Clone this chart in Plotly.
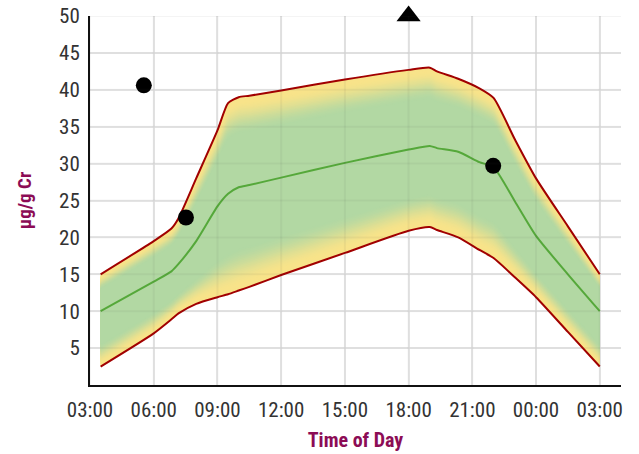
import plotly.graph_objects as go

# ---------------- data ----------------
times = ["2024-01-01 03:30", "2024-01-01 06:00", "2024-01-01 06:50", "2024-01-01 07:10",
         "2024-01-01 08:00", "2024-01-01 09:00", "2024-01-01 09:30", "2024-01-01 10:00",
         "2024-01-01 10:30", "2024-01-01 12:00", "2024-01-01 15:00", "2024-01-01 18:00",
         "2024-01-01 19:00", "2024-01-01 19:20", "2024-01-01 20:20", "2024-01-01 21:20",
         "2024-01-01 22:00", "2024-01-01 23:00", "2024-01-02 00:00", "2024-01-02 01:30",
         "2024-01-02 03:00"]
upper = [15.0, 19.5, 21.2, 22.6, 28.0, 34.5, 38.2, 39.0, 39.2, 39.9, 41.4, 42.7,
         43.0, 42.5, 41.5, 40.2, 38.9, 33.3, 28.0, 21.5, 15.0]
median = [10.0, 14.0, 15.4, 16.4, 19.5, 24.2, 25.9, 26.8, 27.1, 28.1, 30.1, 31.9,
          32.4, 32.1, 31.6, 30.2, 29.5, 24.9, 20.2, 15.0, 10.0]
lower = [2.5, 7.0, 8.9, 9.7, 11.0, 11.9, 12.3, 12.8, 13.3, 14.9, 17.9, 20.9,
         21.4, 21.0, 20.0, 18.3, 17.2, 14.6, 11.9, 7.2, 2.5]

dot_times = ["2024-01-01 05:32", "2024-01-01 07:31", "2024-01-01 21:59"]
dot_values = [40.6, 22.7, 29.7]
flag_times = ["2024-01-01 18:00"]
flag_values = [50]

y_ticks = [5, 10, 15, 20, 25, 30, 35, 40, 45, 50]
x_range = ["2024-01-01 03:00", "2024-01-02 04:00"]
x_tick0 = "2024-01-01 03:00"
x_grid = ["2024-01-01 03:00", "2024-01-01 06:00", "2024-01-01 09:00", "2024-01-01 12:00",
          "2024-01-01 15:00", "2024-01-01 18:00", "2024-01-01 21:00", "2024-01-02 00:00",
          "2024-01-02 03:00"]

# ---------------- styling ----------------
YELLOW = (248, 227, 138)
GREEN = (178, 216, 163)
RED = "#a10000"
GREEN_LINE = "#55a83a"
TITLE_COLOR = "#8c0c55"
FONT = "Liberation Sans Narrow, Arial Narrow, Roboto Condensed, Liberation Sans, Arial"
SHAPE = dict(shape="spline", smoothing=0.6)


def mix(t):
    t = max(0.0, min(1.0, t))
    t = t * t * (3 - 2 * t)
    c = [round(YELLOW[i] + (GREEN[i] - YELLOW[i]) * t) for i in range(3)]
    return f"rgb({c[0]},{c[1]},{c[2]})"


def curve(edge, f):
    return [m + f * (e - m) for m, e in zip(median, edge)]


fig = go.Figure()

# nested, overlapping opaque bands: outer (yellow) -> inner (green)
steps = 24
inner = 0.6
hold = 0.04
for i in range(steps + 1):
    f = 1.0 - (1.0 - inner) * i / steps
    t = (1.0 - f - hold) / (1.0 - inner - hold)
    fig.add_trace(go.Scatter(x=times, y=curve(lower, f), mode="lines",
                             line=dict(width=0, **SHAPE), hoverinfo="skip",
                             showlegend=False))
    fig.add_trace(go.Scatter(x=times, y=curve(upper, f), mode="lines",
                             line=dict(width=0, **SHAPE), fill="tonexty",
                             fillcolor=mix(t), hoverinfo="skip", showlegend=False))

# boundary lines and median
fig.add_trace(go.Scatter(x=times, y=upper, mode="lines",
                         line=dict(color=RED, width=2, **SHAPE), showlegend=False))
fig.add_trace(go.Scatter(x=times, y=lower, mode="lines",
                         line=dict(color=RED, width=2, **SHAPE), showlegend=False))
fig.add_trace(go.Scatter(x=times, y=median, mode="lines",
                         line=dict(color=GREEN_LINE, width=2, **SHAPE), showlegend=False))

# observations
fig.add_trace(go.Scatter(x=dot_times, y=dot_values, mode="markers",
                         marker=dict(color="black", size=16, symbol="circle"),
                         showlegend=False, cliponaxis=False))
fig.add_trace(go.Scatter(x=flag_times, y=flag_values, mode="markers",
                         marker=dict(color="black", size=21, symbol="triangle-up"),
                         showlegend=False, cliponaxis=False))

# faint grid overlay so the grid shows through the band
shapes = []
for xv in x_grid:
    shapes.append(dict(type="line", xref="x", yref="paper", x0=xv, x1=xv, y0=0, y1=1,
                       line=dict(color="rgba(60,60,60,0.06)", width=2), layer="above"))
for yv in y_ticks:
    shapes.append(dict(type="line", xref="paper", yref="y", x0=0, x1=1, y0=yv, y1=yv,
                       line=dict(color="rgba(60,60,60,0.06)", width=2), layer="above"))

fig.update_layout(
    width=639, height=454,
    margin=dict(l=90, r=18, t=16, b=69),
    plot_bgcolor="white", paper_bgcolor="white",
    font=dict(family=FONT, size=21, color="#333333"),
    showlegend=False,
    shapes=shapes,
)
fig.update_xaxes(
    type="date", range=x_range, tick0=x_tick0, dtick=3 * 3600 * 1000,
    tickformat="%H:%M", showgrid=True, gridcolor="#e9e9e9", gridwidth=2,
    showline=True, linecolor="#111111", linewidth=2, zeroline=False, ticks="",
    ticklabelstandoff=5, automargin=False,
    tickfont=dict(family=FONT, size=21, color="#333333"),
    title=dict(text="<b>Time of Day</b>", standoff=12,
               font=dict(family=FONT, size=20, color=TITLE_COLOR)),
)
fig.update_yaxes(
    range=[0, 50], tickvals=y_ticks, showgrid=True, gridcolor="#e9e9e9", gridwidth=2,
    showline=True, linecolor="#111111", linewidth=2, zeroline=False, ticks="",
    ticklabelstandoff=4, automargin=False,
    tickfont=dict(family=FONT, size=21, color="#333333"),
    title=dict(text="<b>µg/g Cr</b>", standoff=22,
               font=dict(family=FONT, size=19, color=TITLE_COLOR)),
)

fig.write_html("out.html", config={"displayModeBar": False},
               post_script="document.body.style.margin='0';")
